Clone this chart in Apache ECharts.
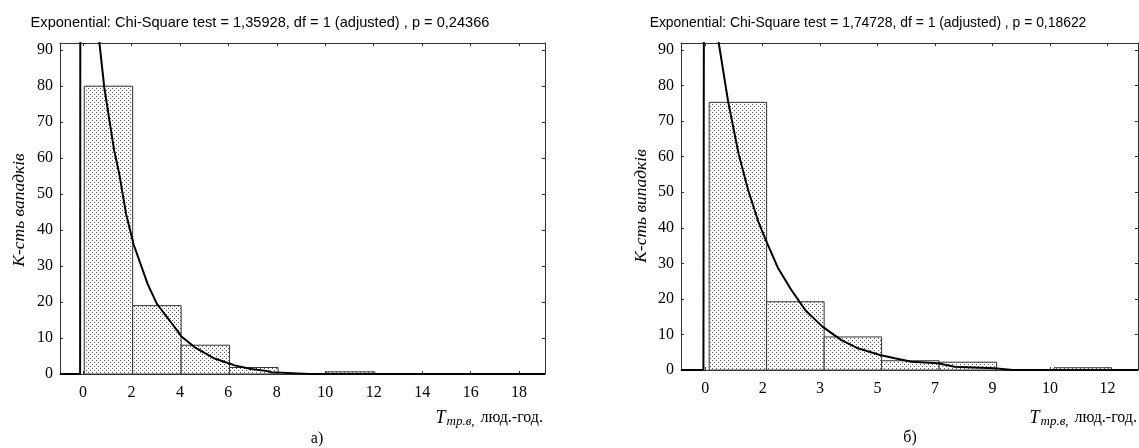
<!DOCTYPE html>
<html><head><meta charset="utf-8">
<script src="https://cdn.jsdelivr.net/npm/echarts@6/dist/echarts.min.js"></script>
<style>html,body{margin:0;padding:0;background:#fff}#c{width:1139px;height:448px}</style>
</head><body><div id="c"></div>
<script>
// ---- data ----
const titleA = 'Exponential: Chi-Square test = 1,35928, df = 1 (adjusted) , p = 0,24366';
const titleB = 'Exponential: Chi-Square test = 1,74728, df = 1 (adjusted) , p = 0,18622';
const yNameA = 'К-сть вападків';
const yNameB = 'К-сть випадків';
const captionA = 'а)';
const captionB = 'б)';
const yTicks = [0, 10, 20, 30, 40, 50, 60, 70, 80, 90];

const xTicksA = [0, 2, 4, 6, 8, 10, 12, 14, 16, 18];
const xTickLabelsA = ['0', '2', '4', '6', '8', '10', '12', '14', '16', '18'];
const binStartA = [0.05, 2.05, 4.05, 6.05, 8.05, 10.05];
const binEndA = [2.05, 4.05, 6.05, 8.05, 10.05, 12.05];
const countA = [80, 19, 8, 1.8, 0, 0.6];
const curveXA = [-0.95, -0.12, -0.11, 0.67, 0.88, 1.29, 1.5, 1.78, 2.09, 2.67, 3.05, 3.22, 3.9, 4.05, 4.6, 5.43, 6.1, 6.25, 6.94, 7.63, 7.77, 9.34, 19.07];
const curveYA = [0, 0, 125, 92.5, 79.5, 62, 55.5, 44.4, 36, 25, 19.5, 18, 12, 10.5, 7.5, 4.3, 2.8, 2.4, 1.4, 0.8, 0.5, 0, 0];

const xTicksB = [0, 1, 2, 3, 4, 5, 6, 7];
const xTickLabelsB = ['0', '2', '3', '5', '7', '9', '10', '12'];
const binStartB = [0.07, 1.07, 2.07, 3.07, 4.07, 5.07, 6.07];
const binEndB = [1.07, 2.07, 3.07, 4.07, 5.07, 6.07, 7.07];
const countB = [75.3, 19.2, 9.3, 2.6, 2.2, 0, 0.65];
const curveXB = [-0.42, -0.03, -0.02, 0.23, 0.40, 0.58, 0.75, 0.93, 1.08, 1.27, 1.5, 1.74, 2.04, 2.37, 2.66, 3.04, 3.3, 3.59, 4.05, 4.34, 5.03, 5.35, 7.53];
const curveYB = [0, 0, 125, 92.7, 75.5, 61, 50.5, 41.5, 35.6, 28.6, 22.5, 16.9, 12.2, 8.4, 6.1, 4.2, 3.3, 2.3, 1.9, 0.9, 0.5, 0, 0];

// ---- style ----
const SERIF = '"Liberation Serif", "DejaVu Serif", serif';
const SANS = '"Liberation Sans", Arial, sans-serif';
const tile = document.createElement('canvas');
tile.width = 4; tile.height = 4;
const tctx = tile.getContext('2d');
tctx.fillStyle = '#fff'; tctx.fillRect(0, 0, 4, 4);
tctx.fillStyle = '#555'; tctx.fillRect(0, 0, 1, 1); tctx.fillRect(2, 2, 1, 1);
const pattern = { image: tile, repeat: 'repeat' };

function xAxisPair(gridIndex, min, max, ticks, labels) {
  const common = {
    type: 'value', gridIndex, min, max, splitLine: { show: false },
    axisLine: { show: true, onZero: false, lineStyle: { color: '#333', width: 1 } },
    axisTick: { show: true, inside: true, length: 3, customValues: ticks, lineStyle: { color: '#333' } }
  };
  return [
    Object.assign({}, common, {
      position: 'bottom',
      axisLabel: { show: true, customValues: ticks, margin: 11, color: '#000', fontFamily: SERIF, fontSize: 16,
        formatter: v => labels[ticks.indexOf(v)] }
    }),
    Object.assign({}, common, { position: 'top', axisLabel: { show: false } })
  ];
}
function yAxisPair(gridIndex) {
  const common = {
    type: 'value', gridIndex, min: 0, max: 92, splitLine: { show: false },
    axisLine: { show: true, onZero: false, lineStyle: { color: '#333', width: 1 } },
    axisTick: { show: true, inside: true, length: 3, customValues: yTicks, lineStyle: { color: '#333' } }
  };
  return [
    Object.assign({}, common, {
      position: 'left',
      axisLabel: { show: true, customValues: yTicks, margin: 7, color: '#000', fontFamily: SERIF, fontSize: 16 }
    }),
    Object.assign({}, common, { position: 'right', axisLabel: { show: false } })
  ];
}
function barSeries(xi, yi, starts, ends, counts) {
  return {
    type: 'custom', xAxisIndex: xi, yAxisIndex: yi, clip: true,
    data: starts.map((s, i) => [s, ends[i], counts[i]]),
    renderItem: (params, api) => {
      const h = api.value(2);
      if (!h) return null;
      const p0 = api.coord([api.value(0), h]);
      const p1 = api.coord([api.value(1), 0]);
      return { type: 'rect', shape: { x: p0[0], y: p0[1], width: p1[0] - p0[0], height: p1[1] - p0[1] },
        style: { fill: pattern, stroke: '#333', lineWidth: 1 } };
    }
  };
}
function curveSeries(xi, yi, xs, ys) {
  return {
    type: 'line', xAxisIndex: xi, yAxisIndex: yi, clip: true, showSymbol: false, symbol: 'none',
    data: xs.map((x, i) => [x, ys[i]]), lineStyle: { color: '#000', width: 2 }, animation: false, z: 5
  };
}
const richX = {
  t: { fontFamily: SERIF, fontStyle: 'italic', fontSize: 18, color: '#000' },
  s: { fontFamily: SERIF, fontStyle: 'italic', fontSize: 13, color: '#000', padding: [8, 2, 0, 1] },
  n: { fontFamily: SERIF, fontSize: 16, color: '#000' }
};

const chart = echarts.init(document.getElementById('c'), null, { renderer: 'canvas' });
chart.setOption({
  animation: false,
  backgroundColor: '#fff',
  grid: [
    { left: 60, top: 43, width: 485, height: 331, show: false },
    { left: 681, top: 43, width: 457, height: 327, show: false }
  ],
  xAxis: [].concat(xAxisPair(0, -0.95, 19.07, xTicksA, xTickLabelsA), xAxisPair(1, -0.42, 7.53, xTicksB, xTickLabelsB)),
  yAxis: [].concat(yAxisPair(0), yAxisPair(1)),
  series: [
    barSeries(0, 0, binStartA, binEndA, countA),
    curveSeries(0, 0, curveXA, curveYA),
    barSeries(2, 2, binStartB, binEndB, countB),
    curveSeries(2, 2, curveXB, curveYB)
  ],
  graphic: [
    { type: 'text', x: 260, y: 23, style: { text: titleA, font: '14.6px ' + SANS, fill: '#000', align: 'center', verticalAlign: 'middle' } },
    { type: 'text', x: 868, y: 23, style: { text: titleB, font: '13.9px ' + SANS, fill: '#000', align: 'center', verticalAlign: 'middle' } },
    { type: 'text', x: 19, y: 210, rotation: Math.PI / 2, style: { text: yNameA, font: 'italic 17.5px ' + SERIF, fill: '#000', align: 'center', verticalAlign: 'middle' } },
    { type: 'text', x: 641, y: 206, rotation: Math.PI / 2, style: { text: yNameB, font: 'italic 17.5px ' + SERIF, fill: '#000', align: 'center', verticalAlign: 'middle' } },
    { type: 'text', x: 543, y: 418, style: { text: '{t|T}{s|тр.в,}{n| люд.-год.}', rich: richX, align: 'right', verticalAlign: 'middle' } },
    { type: 'text', x: 1137, y: 418, style: { text: '{t|T}{s|тр.в,}{n| люд.-год.}', rich: richX, align: 'right', verticalAlign: 'middle' } },
    { type: 'text', x: 317, y: 439, style: { text: captionA, font: '16px ' + SERIF, fill: '#000', align: 'center', verticalAlign: 'middle' } },
    { type: 'text', x: 910, y: 438, style: { text: captionB, font: '16px ' + SERIF, fill: '#000', align: 'center', verticalAlign: 'middle' } }
  ]
});
</script>
</body></html>
